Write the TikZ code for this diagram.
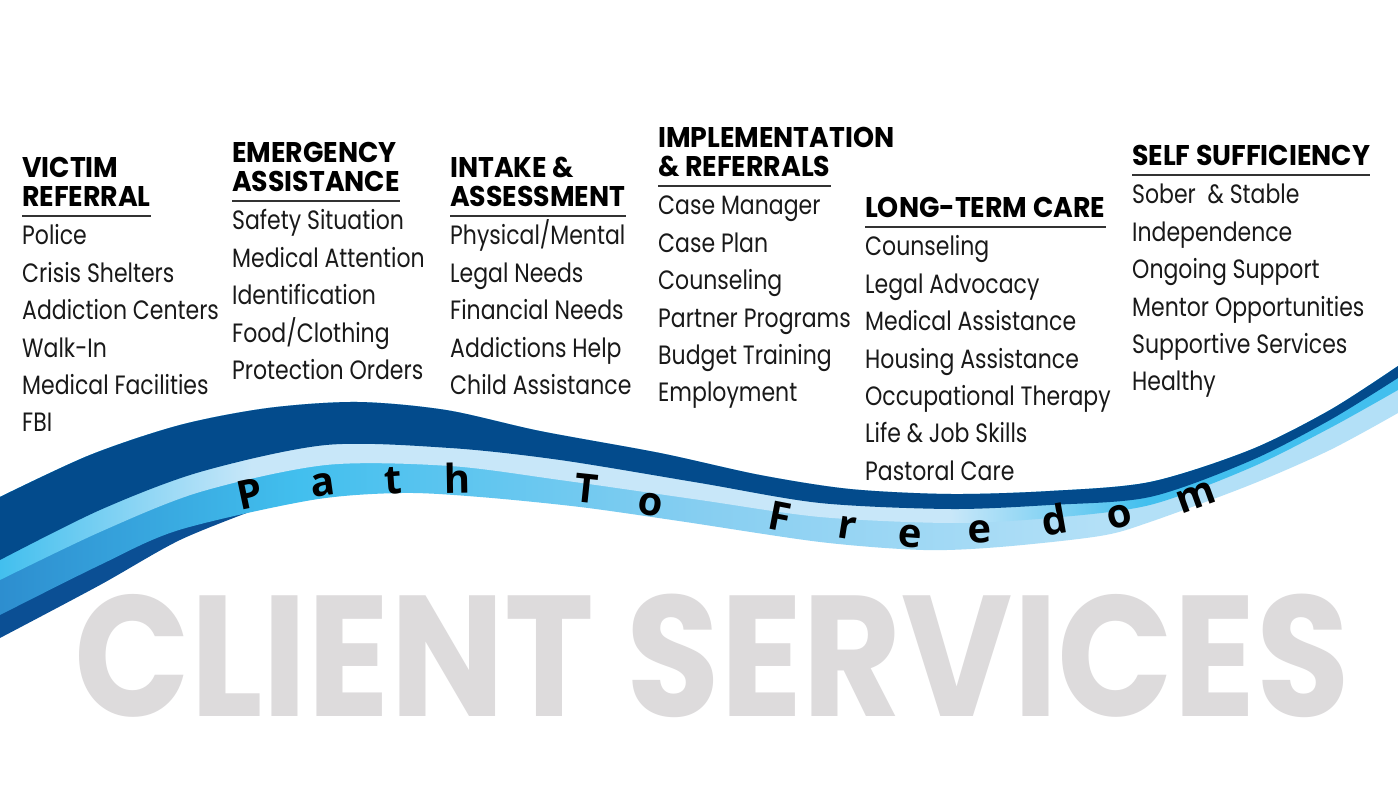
\documentclass[tikz,border=0pt]{standalone}
\usepackage{fontspec}
\newfontfamily\itemfamily[FakeStretch=0.83]{Poppins}
\newfontfamily\headfamily[FakeStretch=0.94]{Poppins}
\newfontfamily\pathfamily{Open Sans}
\newfontfamily\bigfamily[FakeStretch=0.885]{Poppins}
\usetikzlibrary{positioning}
\definecolor{navy}{HTML}{034B8C}
\definecolor{navystrip}{HTML}{0B4F94}
\definecolor{midblue}{HTML}{2D8ECF}
\definecolor{skyblue}{HTML}{42BFEE}
\definecolor{lightblue}{HTML}{86CEF1}
\definecolor{paleblue}{HTML}{B3E0F7}
\definecolor{stripe}{HTML}{C8E7F9}
\definecolor{biggray}{HTML}{DDDBDC}
\pgfdeclarehorizontalshading{lowerband}{100bp}{color(0bp)=(midblue); color(25bp)=(midblue); color(35.7bp)=(skyblue); color(50bp)=(lightblue); color(64.3bp)=(paleblue); color(100bp)=(paleblue)}
\pgfdeclarehorizontalshading{paleband}{100bp}{color(0bp)=(skyblue); color(25bp)=(skyblue); color(34bp)=(stripe); color(59bp)=(stripe); color(66bp)=(skyblue); color(100bp)=(skyblue)}

\begin{document}
\begin{tikzpicture}[x=1pt,y=1pt,
  item/.style={font=\itemfamily\fontsize{26.5}{30}\selectfont, inner sep=0pt, text=black!90},
  head/.style={font=\headfamily\bfseries\fontsize{28.5}{30}\selectfont, inner sep=0pt, anchor=base west},
  hrow/.style={below=29pt of #1.base west, anchor=base west},
  row/.style={below=37.4pt of #1.base west, anchor=base west},
  rule/.style={draw=black!80, line width=1.3pt},
  letter/.style={font=\pathfamily\bfseries\fontsize{40}{42}\selectfont, inner sep=0pt}]
  \useasboundingbox[fill=white] (0,0) rectangle (1398,800);

  % Title
  \node[font=\bigfamily\bfseries\fontsize{172}{172}\selectfont, text=biggray, inner sep=0pt, anchor=base west] (title) at (74,83) {CLIENT SERVICES};

  % Ribbon (pixel coordinates, y pointing down)
  \begin{scope}[yshift=800pt, yscale=-1]
  \clip (0,0) rectangle (1398,800);
  \fill[navystrip] plot[smooth] coordinates {(0,638) (100,585) (180,540) (260,508)}
    -- (260,480) -- (0,560) -- cycle;
  \shade[shading=lowerband]
    plot[smooth] coordinates {(0,497) (90,455) (180,425) (268,408) (357,402) (446,410) (540,431) (660,453) (760,475) (850,489) (950,494) (1050,491) (1150,482) (1250,450) (1330,410) (1398,366)}
    -- plot[smooth] coordinates {(1398,413) (1330,450) (1250,485) (1150,522) (1100,536) (1000,547) (923,550) (820,542) (679,521) (580,507) (480,497) (402,493) (312,500) (179,530) (100,565) (0,615)}
    -- cycle;
  \shade[shading=paleband]
    plot[smooth] coordinates {(0,497) (90,455) (180,425) (268,408) (357,402) (446,410) (540,431) (660,453) (760,475) (850,489) (950,494) (1050,491) (1150,482) (1250,450) (1330,410) (1398,366)}
    -- plot[smooth] coordinates {(1398,390) (1330,428) (1250,468) (1150,505) (1050,518) (950,523) (820,517) (700,500) (560,480) (450,466) (326,465) (200,492) (100,532) (0,580)}
    -- cycle;
  \fill[navy]
    plot[smooth] coordinates {(0,497) (90,455) (180,425) (268,408) (357,402) (446,410) (540,431) (660,453) (760,475) (850,489) (950,494) (1050,491) (1150,482) (1250,450) (1330,410) (1398,366)}
    -- plot[smooth] coordinates {(1398,378) (1330,420) (1250,461) (1150,497) (1050,505) (950,509) (820,503) (700,483) (560,460) (450,448) (326,445) (200,472) (100,510) (0,560)}
    -- cycle;
  \end{scope}

  % Path To Freedom
  \node[letter, rotate=12] (p1) at (250,306) {P};
  \node[letter, rotate=8] (p2) at (323,315) {a};
  \node[letter, rotate=4] (p3) at (393,319) {t};
  \node[letter, rotate=1] (p4) at (457,322) {h};
  \node[letter, rotate=-6] (p5) at (587,311) {T};
  \node[letter, rotate=-9] (p6) at (650,295) {o};
  \node[letter, rotate=-11] (p7) at (780,283) {F};
  \node[letter, rotate=-9] (p8) at (847,272) {r};
  \node[letter, rotate=-4] (p9) at (910,264) {e};
  \node[letter, rotate=3] (p10) at (980,268) {e};
  \node[letter, rotate=10] (p11) at (1054,280) {d};
  \node[letter, rotate=15] (p12) at (1120,283) {o};
  \node[letter, rotate=20] (p13) at (1196,303) {m};

  % Victim referral
  \node[head] (h1a) at (22,622) {VICTIM};
  \node[head, hrow=h1a] (h1b) {REFERRAL};
  \draw[rule] ([yshift=-9pt]h1b.base west) -- ([yshift=-9pt]h1b.base east);
  \node[item, below=38pt of h1b.base west, anchor=base west] (c1a) {Police};
  \node[item, row=c1a] (c1b) {Crisis Shelters};
  \node[item, row=c1b] (c1c) {Addiction Centers};
  \node[item, row=c1c] (c1d) {Walk-In};
  \node[item, row=c1d] (c1e) {Medical Facilities};
  \node[item, row=c1e] (c1f) {FBI};

  % Emergency assistance
  \node[head] (h2a) at (232,637) {EMERGENCY};
  \node[head, hrow=h2a] (h2b) {ASSISTANCE};
  \draw[rule] ([yshift=-9pt]h2b.base west) -- ([yshift=-9pt]h2b.base east);
  \node[item, below=38pt of h2b.base west, anchor=base west] (c2a) {Safety Situation};
  \node[item, row=c2a] (c2b) {Medical Attention};
  \node[item, row=c2b] (c2c) {Identification};
  \node[item, row=c2c] (c2d) {Food/Clothing};
  \node[item, row=c2d] (c2e) {Protection Orders};

  % Intake and assessment
  \node[head] (h3a) at (450,622) {INTAKE \&};
  \node[head, hrow=h3a] (h3b) {ASSESSMENT};
  \draw[rule] ([yshift=-9pt]h3b.base west) -- ([yshift=-9pt]h3b.base east);
  \node[item, below=38pt of h3b.base west, anchor=base west] (c3a) {Physical/Mental};
  \node[item, row=c3a] (c3b) {Legal Needs};
  \node[item, row=c3b] (c3c) {Financial Needs};
  \node[item, row=c3c] (c3d) {Addictions Help};
  \node[item, row=c3d] (c3e) {Child Assistance};

  % Implementation and referrals
  \node[head] (h4a) at (658,652) {IMPLEMENTATION};
  \node[head, hrow=h4a] (h4b) {\& REFERRALS};
  \draw[rule] ([yshift=-9pt]h4b.base west) -- ([yshift=-9pt]h4b.base east);
  \node[item, below=38pt of h4b.base west, anchor=base west] (c4a) {Case Manager};
  \node[item, row=c4a] (c4b) {Case Plan};
  \node[item, row=c4b] (c4c) {Counseling};
  \node[item, row=c4c] (c4d) {Partner Programs};
  \node[item, row=c4d] (c4e) {Budget Training};
  \node[item, row=c4e] (c4f) {Employment};

  % Long-term care
  \node[head] (h5a) at (865,582) {LONG-TERM CARE};
  \draw[rule] ([yshift=-9pt]h5a.base west) -- ([yshift=-9pt]h5a.base east);
  \node[item, below=38pt of h5a.base west, anchor=base west] (c5a) {Counseling};
  \node[item, row=c5a] (c5b) {Legal Advocacy};
  \node[item, row=c5b] (c5c) {Medical Assistance};
  \node[item, row=c5c] (c5d) {Housing Assistance};
  \node[item, row=c5d] (c5e) {Occupational Therapy};
  \node[item, row=c5e] (c5f) {Life \& Job Skills};
  \node[item, row=c5f] (c5g) {Pastoral Care};

  % Self sufficiency
  \node[head] (h6a) at (1132,634) {SELF SUFFICIENCY};
  \draw[rule] ([yshift=-9pt]h6a.base west) -- ([yshift=-9pt]h6a.base east);
  \node[item, below=38pt of h6a.base west, anchor=base west] (c6a) {Sober \ \& Stable};
  \node[item, row=c6a] (c6b) {Independence};
  \node[item, row=c6b] (c6c) {Ongoing Support};
  \node[item, row=c6c] (c6d) {Mentor Opportunities};
  \node[item, row=c6d] (c6e) {Supportive Services};
  \node[item, row=c6e] (c6f) {Healthy};
\end{tikzpicture}
\end{document}
